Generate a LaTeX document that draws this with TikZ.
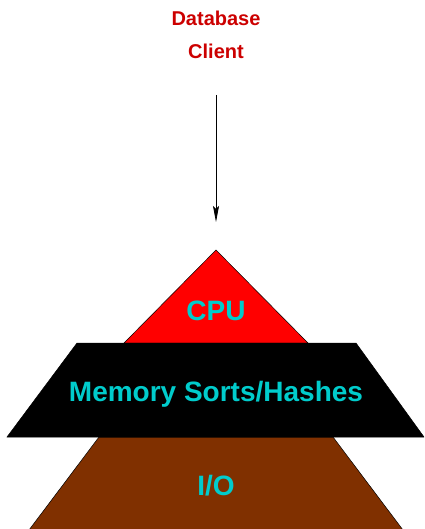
\documentclass[tikz,border=0pt]{standalone}
\usepackage{fontspec}
\setmainfont{Liberation Sans}
\usetikzlibrary{arrows.meta}
\definecolor{titlered}{RGB}{204,0,0}
\definecolor{labelcyan}{RGB}{0,204,204}
\definecolor{layerbrown}{RGB}{128,48,0}
\begin{document}
\begin{tikzpicture}[x=1pt,y=-1pt,
  title/.style={text=titlered,font=\bfseries\fontsize{20}{20}\selectfont,inner sep=0pt},
  layerlabel/.style={text=labelcyan,font=\bfseries\fontsize{28}{28}\selectfont,inner sep=0pt},
  layer/.style={draw=black,line width=0.5pt,line join=miter}]
\useasboundingbox (0,0) rectangle (424,529);
\clip (0,0) rectangle (424,529);

% client label and the request arrow
\node[title] (db) at (216,18) {Database};
\node[title] (client) at (216,51) {Client};
\coordinate (arrowtop) at (216,95);
\coordinate (arrowtip) at (216,222);
\draw[line width=0.8pt,-{Stealth[length=16pt,width=6pt,inset=3pt]}] (arrowtop) -- (arrowtip);

% resource pyramid, bottom layer first
\fill[layer,fill=layerbrown] (99,437) -- (333,437) -- (409,538) -- (23,538) -- cycle;
\fill[layer,fill=red] (216,250) -- (308,343) -- (124,343) -- cycle;
\fill[layer,fill=black] (77,343) -- (356,343) -- (424,437) -- (7,437) -- cycle;

\node[layerlabel] (cpu) at (216,311) {CPU};
\node[layerlabel] (mem) at (216,394) {Memory Sorts/Hashes};
\node[layerlabel] (io) at (216,486) {I/O};
\end{tikzpicture}
\end{document}
